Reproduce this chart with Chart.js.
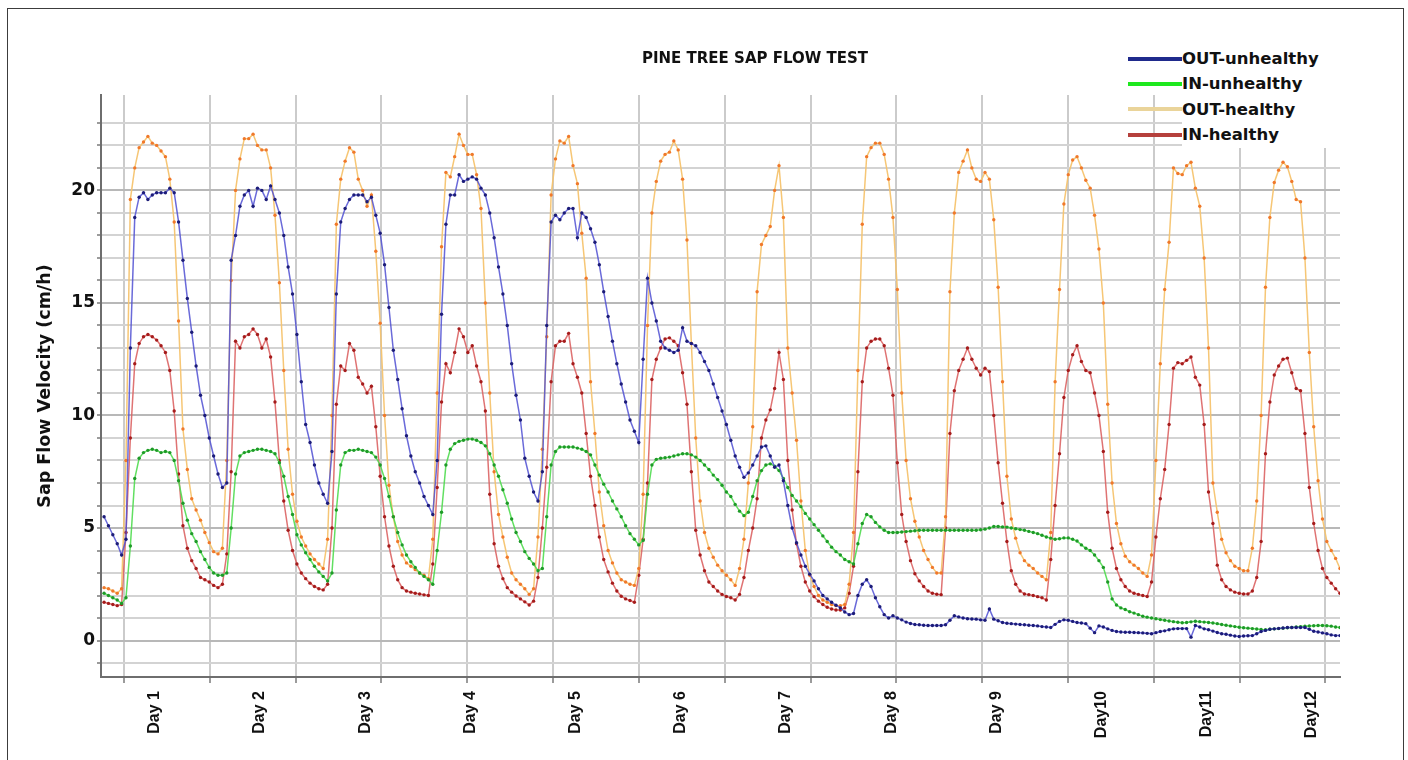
<!DOCTYPE html>
<html>
<head>
<meta charset="utf-8">
<title>Pine tree sap flow test</title>
<script src="https://cdn.jsdelivr.net/npm/chart.js@4.4.1/dist/chart.umd.min.js"></script>
<style>
  html, body { margin: 0; padding: 0; background: #fff; }
  #wrap { position: relative; width: 1408px; height: 760px; overflow: hidden; font-family: "DejaVu Sans", sans-serif; }
  #frame { position: absolute; left: 7px; top: 8px; width: 1397px; height: 800px; border: 1.5px solid #3c3c3c; box-sizing: border-box; pointer-events: none; }
  #title { position: absolute; top: 49px; left: 755px; transform: translateX(-50%); font-weight: bold; font-size: 15px; line-height: 18px; color: #111; white-space: nowrap; }
  #legend { position: absolute; left: 1128px; top: 46px; }
  .item { display: flex; align-items: center; height: 25.4px; }
  .swatch { width: 54px; height: 4px; }
  .label { background: #fff; width: 160px; font-weight: bold; font-size: 16.5px; line-height: 25.4px; color: #111; }
</style>
</head>
<body>
<div id="wrap">
  <canvas id="canvas" width="1408" height="760"></canvas>
  <div id="title">PINE TREE SAP FLOW TEST</div>
  <div id="legend"></div>
  <div id="frame"></div>
</div>
<script>
// hourly readings, one row per day (day 12 is cut short)
const outUnhealthy = [
  5.5, 5.1, 4.7, 4.3, 3.8, 4.5, 13.0, 18.8, 19.7, 19.9, 19.6, 19.8, 19.9, 19.9, 19.9, 20.1, 19.9, 18.6, 16.9, 15.2, 13.7, 12.2, 10.9, 10.0,
  9.0, 8.2, 7.4, 6.8, 7.0, 16.9, 18.0, 19.3, 19.8, 20.0, 19.3, 20.1, 20.0, 19.6, 20.2, 19.6, 19.0, 18.0, 16.6, 15.4, 13.6, 11.5, 9.6, 8.8,
  7.8, 7.0, 6.5, 6.1, 8.4, 15.4, 18.6, 19.2, 19.6, 19.8, 19.8, 19.8, 19.5, 19.7, 18.9, 18.1, 16.7, 14.8, 12.9, 11.6, 10.3, 9.1, 8.2, 7.5,
  7.0, 6.4, 6.0, 5.6, 8.0, 14.5, 18.5, 19.8, 19.8, 20.7, 20.4, 20.5, 20.6, 20.5, 20.1, 19.8, 19.0, 17.9, 16.6, 15.4, 14.0, 12.3, 10.9, 9.8,
  8.1, 7.3, 6.6, 6.2, 7.5, 14.0, 18.6, 18.9, 18.7, 19.0, 19.2, 19.2, 17.9, 19.0, 18.8, 18.3, 17.7, 16.7, 15.5, 14.4, 13.3, 12.3, 11.4, 10.6,
  9.8, 9.3, 8.8, 12.5, 16.1, 15.0, 14.2, 13.3, 13.0, 12.9, 12.8, 12.9, 13.9, 13.3, 13.2, 13.1, 12.8, 12.4, 12.0, 11.4, 10.8, 10.2, 9.6, 8.9,
  8.2, 7.7, 7.25, 7.45, 7.8, 8.2, 8.6, 8.65, 8.2, 7.7, 7.8, 7.1, 6.0, 5.0, 4.35, 3.8, 3.3, 2.95, 2.65, 2.3, 2.0, 1.85, 1.7, 1.57,
  1.45, 1.27, 1.15, 1.2, 2.0, 2.5, 2.7, 2.4, 1.9, 1.5, 1.15, 1.0, 1.1, 1.0, 0.92, 0.82, 0.76, 0.71, 0.7, 0.68, 0.67, 0.67, 0.67, 0.67,
  0.7, 0.9, 1.1, 1.05, 1.0, 0.97, 0.96, 0.95, 0.92, 0.9, 1.4, 0.95, 0.88, 0.8, 0.77, 0.75, 0.73, 0.71, 0.7, 0.68, 0.67, 0.65, 0.62, 0.6,
  0.58, 0.72, 0.85, 0.92, 0.9, 0.85, 0.8, 0.78, 0.75, 0.55, 0.35, 0.65, 0.6, 0.52, 0.45, 0.4, 0.38, 0.37, 0.37, 0.36, 0.35, 0.34, 0.32, 0.3,
  0.35, 0.4, 0.43, 0.48, 0.52, 0.53, 0.53, 0.53, 0.15, 0.67, 0.6, 0.52, 0.48, 0.42, 0.36, 0.3, 0.28, 0.24, 0.2, 0.18, 0.2, 0.21, 0.22, 0.3,
  0.4, 0.45, 0.5, 0.52, 0.54, 0.56, 0.58, 0.58, 0.58, 0.58, 0.58, 0.5, 0.41, 0.38, 0.34, 0.3, 0.25, 0.22, 0.22
];

const inUnhealthy = [
  2.1, 2.0, 1.9, 1.8, 1.65, 1.9, 4.2, 7.2, 8.1, 8.35, 8.45, 8.5, 8.45, 8.35, 8.4, 8.35, 8.0, 7.1, 6.1, 5.35, 4.75, 4.4, 3.95, 3.6,
  3.25, 3.0, 2.9, 2.9, 3.0, 5.0, 7.4, 8.2, 8.35, 8.4, 8.45, 8.5, 8.5, 8.45, 8.4, 8.3, 7.9, 7.3, 6.4, 5.6, 4.7, 4.25, 3.9, 3.6,
  3.3, 3.05, 2.85, 2.65, 3.0, 5.8, 7.8, 8.35, 8.45, 8.45, 8.5, 8.45, 8.4, 8.35, 8.15, 7.8, 7.2, 6.4, 5.5, 4.8, 4.25, 3.8, 3.5, 3.25,
  3.0, 2.85, 2.7, 2.5, 4.0, 5.7, 7.8, 8.5, 8.75, 8.85, 8.9, 8.95, 8.95, 8.9, 8.8, 8.65, 8.3, 7.8, 7.3, 6.7, 6.1, 5.4, 4.8, 4.4,
  3.95, 3.65, 3.4, 3.1, 3.2, 5.5, 7.8, 8.4, 8.6, 8.6, 8.6, 8.6, 8.55, 8.5, 8.4, 8.25, 7.8, 7.35, 6.95, 6.6, 6.2, 5.85, 5.5, 5.1,
  4.75, 4.5, 4.25, 4.45, 6.5, 7.8, 8.05, 8.1, 8.12, 8.15, 8.2, 8.25, 8.3, 8.3, 8.25, 8.15, 8.0, 7.8, 7.6, 7.35, 7.15, 6.9, 6.6, 6.4,
  6.05, 5.75, 5.55, 5.7, 6.4, 7.1, 7.55, 7.8, 7.85, 7.75, 7.55, 7.2, 6.8, 6.45, 6.2, 5.95, 5.65, 5.4, 5.15, 4.9, 4.65, 4.4, 4.15, 3.95,
  3.8, 3.6, 3.5, 3.4, 4.3, 5.2, 5.6, 5.5, 5.25, 5.05, 4.9, 4.8, 4.8, 4.8, 4.82, 4.84, 4.86, 4.88, 4.9, 4.9, 4.9, 4.9, 4.9, 4.9,
  4.9, 4.9, 4.9, 4.9, 4.9, 4.9, 4.9, 4.9, 4.92, 4.95, 5.0, 5.07, 5.07, 5.05, 5.04, 5.0, 4.97, 4.93, 4.9, 4.85, 4.8, 4.75, 4.68, 4.6,
  4.55, 4.5, 4.52, 4.56, 4.56, 4.5, 4.42, 4.25, 4.1, 4.0, 3.8, 3.55, 3.25, 2.6, 1.85, 1.58, 1.45, 1.38, 1.28, 1.22, 1.15, 1.08, 1.04, 1.0,
  0.97, 0.93, 0.9, 0.87, 0.84, 0.81, 0.79, 0.8, 0.83, 0.86, 0.84, 0.82, 0.8, 0.78, 0.75, 0.71, 0.68, 0.65, 0.62, 0.59, 0.57, 0.55, 0.53, 0.51,
  0.49, 0.48, 0.5, 0.52, 0.53, 0.55, 0.57, 0.58, 0.6, 0.62, 0.64, 0.65, 0.66, 0.67, 0.67, 0.66, 0.64, 0.6, 0.58
];

const outHealthy = [
  2.35, 2.3, 2.2, 2.1, 2.3, 8.0, 19.6, 21.0, 21.9, 22.15, 22.4, 22.1, 22.0, 21.75, 21.5, 20.5, 18.6, 14.2, 9.4, 7.6, 6.3, 5.8, 5.35, 4.8,
  4.35, 3.95, 3.85, 4.1, 8.0, 16.0, 20.0, 21.4, 22.3, 22.3, 22.5, 22.0, 21.8, 21.8, 21.0, 18.9, 15.9, 12.0, 8.5, 6.5, 5.3, 4.6, 4.2, 3.85,
  3.6, 3.4, 3.2, 4.5, 10.0, 18.5, 20.5, 21.3, 21.9, 21.7, 20.5, 20.0, 19.3, 19.8, 17.3, 14.1, 10.0, 6.9, 5.5, 4.4, 3.8, 3.45, 3.3, 3.15,
  3.0, 2.9, 2.75, 4.5, 11.0, 17.5, 20.8, 20.6, 21.5, 22.5, 22.0, 21.6, 21.6, 20.7, 19.2, 15.0, 11.0, 7.5, 5.6, 4.6, 3.7, 3.0, 2.7, 2.5,
  2.3, 2.05, 2.3, 4.6, 8.5, 13.5, 19.8, 21.4, 22.2, 22.1, 22.4, 21.1, 20.3, 18.1, 16.1, 11.5, 9.2, 6.6, 5.1, 4.0, 3.45, 3.0, 2.7, 2.6,
  2.5, 2.45, 3.2, 6.5, 14.0, 19.0, 20.4, 21.3, 21.6, 21.7, 22.2, 21.8, 20.5, 17.8, 13.2, 9.0, 6.2, 4.8, 4.1, 3.7, 3.35, 3.1, 2.9, 2.7,
  2.45, 3.2, 4.5, 7.0, 9.5, 15.5, 17.6, 18.0, 18.4, 20.0, 21.1, 18.8, 13.0, 11.0, 8.9, 6.2, 4.0, 2.9, 2.4, 2.0, 1.8, 1.7, 1.6, 1.55,
  1.55, 1.6, 2.5, 4.8, 12.0, 18.5, 21.5, 21.9, 22.1, 22.1, 21.6, 20.5, 18.8, 15.6, 11.0, 8.0, 6.3, 5.3, 4.6, 4.0, 3.6, 3.25, 3.0, 3.0,
  5.5, 15.5, 19.0, 20.8, 21.3, 21.8, 21.0, 20.5, 20.4, 20.8, 20.5, 18.7, 15.7, 11.5, 7.3, 5.4, 4.55, 3.9, 3.55, 3.35, 3.2, 3.0, 2.85, 2.7,
  4.8, 11.5, 15.6, 19.4, 20.7, 21.35, 21.5, 21.0, 20.45, 20.1, 18.9, 17.4, 15.0, 10.5, 7.0, 5.2, 4.3, 3.75, 3.5, 3.35, 3.2, 3.0, 2.85, 3.8,
  8.0, 12.3, 15.6, 17.7, 21.0, 20.75, 20.7, 21.1, 21.25, 20.1, 19.3, 17.0, 13.0, 7.0, 5.7, 4.5, 3.9, 3.55, 3.3, 3.2, 3.1, 3.1, 4.1, 6.2,
  10.0, 15.7, 18.8, 20.35, 20.9, 21.25, 21.05, 20.4, 19.6, 19.5, 17.0, 12.8, 9.5, 7.1, 5.4, 4.4, 4.0, 3.65, 3.2
];

const inHealthy = [
  1.7, 1.65, 1.6, 1.55, 1.6, 4.8, 9.0, 12.3, 13.2, 13.5, 13.6, 13.5, 13.35, 13.1, 12.8, 12.0, 10.2, 7.4, 5.1, 4.1, 3.55, 3.2, 2.8, 2.7,
  2.6, 2.45, 2.35, 2.5, 3.85, 7.5, 13.3, 13.0, 13.5, 13.6, 13.85, 13.6, 13.0, 13.4, 12.6, 10.6, 8.0, 6.2, 4.9, 4.0, 3.4, 3.0, 2.75, 2.55,
  2.4, 2.3, 2.25, 2.5, 5.0, 10.5, 12.2, 12.0, 13.2, 12.9, 11.7, 11.4, 11.0, 11.3, 9.5, 7.3, 5.5, 4.2, 3.3, 2.7, 2.35, 2.2, 2.15, 2.1,
  2.07, 2.03, 2.0, 3.4, 6.8, 10.6, 12.3, 11.9, 12.8, 13.85, 13.5, 12.8, 13.1, 12.2, 11.5, 10.2, 6.5, 4.3, 3.3, 2.75, 2.35, 2.15, 1.98, 1.85,
  1.72, 1.58, 1.75, 2.8, 5.0, 7.7, 11.5, 13.1, 13.3, 13.3, 13.65, 12.3, 11.7, 11.0, 9.2, 7.3, 6.0, 4.6, 3.6, 3.05, 2.55, 2.2, 1.97, 1.85,
  1.78, 1.7, 2.9, 4.5, 7.0, 11.6, 12.5, 13.0, 13.4, 13.45, 13.3, 13.1, 11.9, 10.5, 7.5, 4.9, 3.8, 3.1, 2.6, 2.4, 2.2, 2.05, 1.96, 1.9,
  1.8, 2.05, 2.8, 4.0, 5.0, 6.3, 9.0, 9.8, 10.25, 11.2, 12.8, 11.6, 8.0, 5.8, 4.3, 3.3, 2.6, 2.2, 1.95, 1.75, 1.6, 1.48, 1.4, 1.36,
  1.36, 1.45, 2.1, 3.3, 7.5, 11.5, 13.0, 13.3, 13.4, 13.4, 13.1, 12.1, 10.9, 7.9, 5.6, 4.4, 3.55, 2.97, 2.65, 2.4, 2.2, 2.1, 2.06, 2.04,
  5.0, 9.2, 11.1, 12.0, 12.5, 13.0, 12.5, 12.1, 11.8, 12.1, 11.95, 10.0, 7.9, 6.1, 4.4, 3.1, 2.5, 2.2, 2.07, 2.04, 2.0, 1.95, 1.9, 1.8,
  3.6, 6.0, 8.3, 10.8, 12.0, 12.7, 13.1, 12.4, 12.0, 11.9, 11.0, 10.0, 8.4, 5.7, 4.1, 3.2, 2.7, 2.4, 2.2, 2.1, 2.05, 2.0, 1.96, 2.6,
  4.6, 6.3, 7.6, 9.6, 12.1, 12.35, 12.3, 12.45, 12.6, 11.7, 11.35, 9.6, 6.6, 5.2, 3.35, 2.7, 2.4, 2.25, 2.15, 2.1, 2.07, 2.07, 2.2, 2.8,
  4.4, 8.3, 10.6, 11.8, 12.2, 12.5, 12.55, 11.9, 11.2, 11.1, 9.2, 6.8, 5.2, 4.0, 3.2, 2.8, 2.55, 2.3, 2.1
];

const dayLabels = ["Day 1", "Day 2", "Day 3", "Day 4", "Day 5", "Day 6",
                   "Day 7", "Day 8", "Day 9", "Day10", "Day11", "Day12"];

const hours = outUnhealthy.map((_, i) => i);
const gridHours = Array.from({ length: 15 }, (_, k) => 4.56 + 19.58 * k);
const dayHours = dayLabels.map((_, i) => 11.6 + 24 * i);
const yGrid = Array.from({ length: 25 }, (_, k) => k - 1);

const font = "'DejaVu Sans', sans-serif";

const series = [
  { label: "OUT-unhealthy", data: outUnhealthy, line: "rgba(80, 80, 210, 0.85)", dot: "#1c1c78", key: "#1f2a8c" },
  { label: "IN-unhealthy", data: inUnhealthy, line: "rgba(80, 220, 80, 0.9)", dot: "#1e9a28", key: "#1ee81e" },
  { label: "OUT-healthy", data: outHealthy, line: "rgba(245, 195, 110, 0.95)", dot: "#f0782a", key: "#ead49a" },
  { label: "IN-healthy", data: inHealthy, line: "rgba(220, 100, 100, 0.9)", dot: "#a51c1c", key: "#b5403c" }
];

const chart = new Chart(document.getElementById("canvas").getContext("2d"), {
  type: "line",
  data: {
    labels: hours,
    datasets: series.map(s => ({
      label: s.label,
      data: s.data,
      borderColor: s.line,
      borderWidth: 1.5,
      pointRadius: 1.7,
      pointBorderWidth: 0,
      pointBackgroundColor: s.dot,
      pointHoverRadius: 0,
      tension: 0
    }))
  },
  options: {
    responsive: false,
    animation: false,
    events: [],
    layout: { padding: { top: 95, right: 68, bottom: 0, left: 0 } },
    plugins: { legend: { display: false }, tooltip: { enabled: false }, title: { display: false } },
    scales: {
      x: {
        type: "linear", position: "bottom", weight: 0,
        min: -0.7, max: 282,
        grid: { color: "#cbcbcb", lineWidth: 2, tickLength: 6, tickColor: "#7a7a7a", tickWidth: 1.5 },
        border: { display: true, color: "#6e6e6e", width: 2 },
        ticks: { display: false },
        afterBuildTicks: s => { s.ticks = gridHours.map(v => ({ value: v })); },
        afterFit: s => { s.height = 6; }
      },
      xd: {
        type: "linear", position: "bottom", weight: 1,
        min: -0.7, max: 282,
        grid: { display: false, drawTicks: false },
        border: { display: false },
        ticks: {
          autoSkip: false, minRotation: 90, maxRotation: 90, padding: 8,
          color: "#111", font: { family: "'Liberation Sans', Arial, sans-serif", weight: "bold", size: 16 },
          callback: (v, i) => dayLabels[i]
        },
        afterBuildTicks: s => { s.ticks = dayHours.map(v => ({ value: v })); },
        afterFit: s => { s.height = 77; }
      },
      y: {
        min: -1.62, max: 24.24,
        grid: {
          color: c => (c.tick && c.tick.value % 5 === 0) ? "#b8b8b8" : "#d3d3d3",
          lineWidth: 2, tickLength: 4, tickColor: "#7a7a7a", tickWidth: 1.5
        },
        border: { display: true, color: "#6e6e6e", width: 2 },
        ticks: {
          autoSkip: false, padding: 2, color: "#111",
          font: { family: font, weight: "bold", size: 17 },
          callback: v => (v % 5 === 0 ? String(v) : "")
        },
        title: {
          display: true, text: "Sap Flow Velocity (cm/h)", color: "#111",
          font: { family: font, weight: "bold", size: 17.5 },
          padding: { top: 35, bottom: 0 }
        },
        afterBuildTicks: s => { s.ticks = yGrid.map(v => ({ value: v })); },
        afterFit: s => { s.width = 101; }
      }
    }
  }
});

// legend on top of the plot, like the original
const legend = document.getElementById("legend");
series.forEach(s => {
  const item = document.createElement("div");
  item.className = "item";
  const sw = document.createElement("span");
  sw.className = "swatch";
  sw.style.background = s.key;
  const tx = document.createElement("span");
  tx.className = "label";
  tx.textContent = s.label;
  item.appendChild(sw);
  item.appendChild(tx);
  legend.appendChild(item);
});
</script>
</body>
</html>
